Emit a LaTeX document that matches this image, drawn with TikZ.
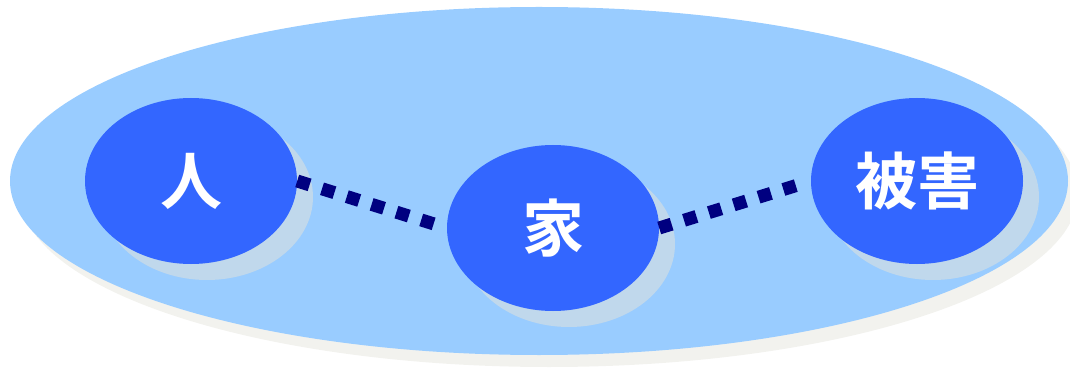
\documentclass[tikz,border=0pt]{standalone}
\usepackage{fontspec}
\newfontfamily\cjk{Noto Sans CJK JP}[BoldFont={Noto Sans CJK JP Bold}]
\usetikzlibrary{shapes.geometric,shadows}
\definecolor{fieldblue}{HTML}{99CCFF}
\definecolor{fieldshade}{HTML}{F2F2EE}
\definecolor{bubbleblue}{HTML}{3366FF}
\definecolor{bubbleshade}{HTML}{C0D8EC}
\definecolor{linknavy}{HTML}{000080}
\tikzset{
  field/.style={ellipse, fill=fieldblue, inner sep=0pt,
    minimum width=1058pt, minimum height=348pt,
    drop shadow={shadow xshift=10pt, shadow yshift=-12pt, fill=fieldshade, opacity=1}},
  bubble/.style={ellipse, fill=bubbleblue, inner sep=0pt, text=white,
    minimum width=212pt, minimum height=166pt,
    font=\cjk\bfseries\fontsize{62}{62}\selectfont,
    drop shadow={shadow xshift=16pt, shadow yshift=-16pt, fill=bubbleshade, opacity=1}},
  link/.style={linknavy, line width=13pt, dash pattern=on 13pt off 13pt, shorten >=8pt}
}
\begin{document}
\begin{tikzpicture}[x=1pt,y=1pt]
\useasboundingbox (0,0) rectangle (1070,367);
\clip (0,0) rectangle (1070,367);
\node[field] (world) at (539,186) {};
\node[bubble] (jin) at (191,186) {人};
\node[bubble] (ie) at (553,139) {家};
\node[bubble] (higai) at (917,186) {被害};
\draw[link] (jin.east) -- (ie.west);
\draw[link] (ie.east) -- (higai.west);
\end{tikzpicture}
\end{document}
